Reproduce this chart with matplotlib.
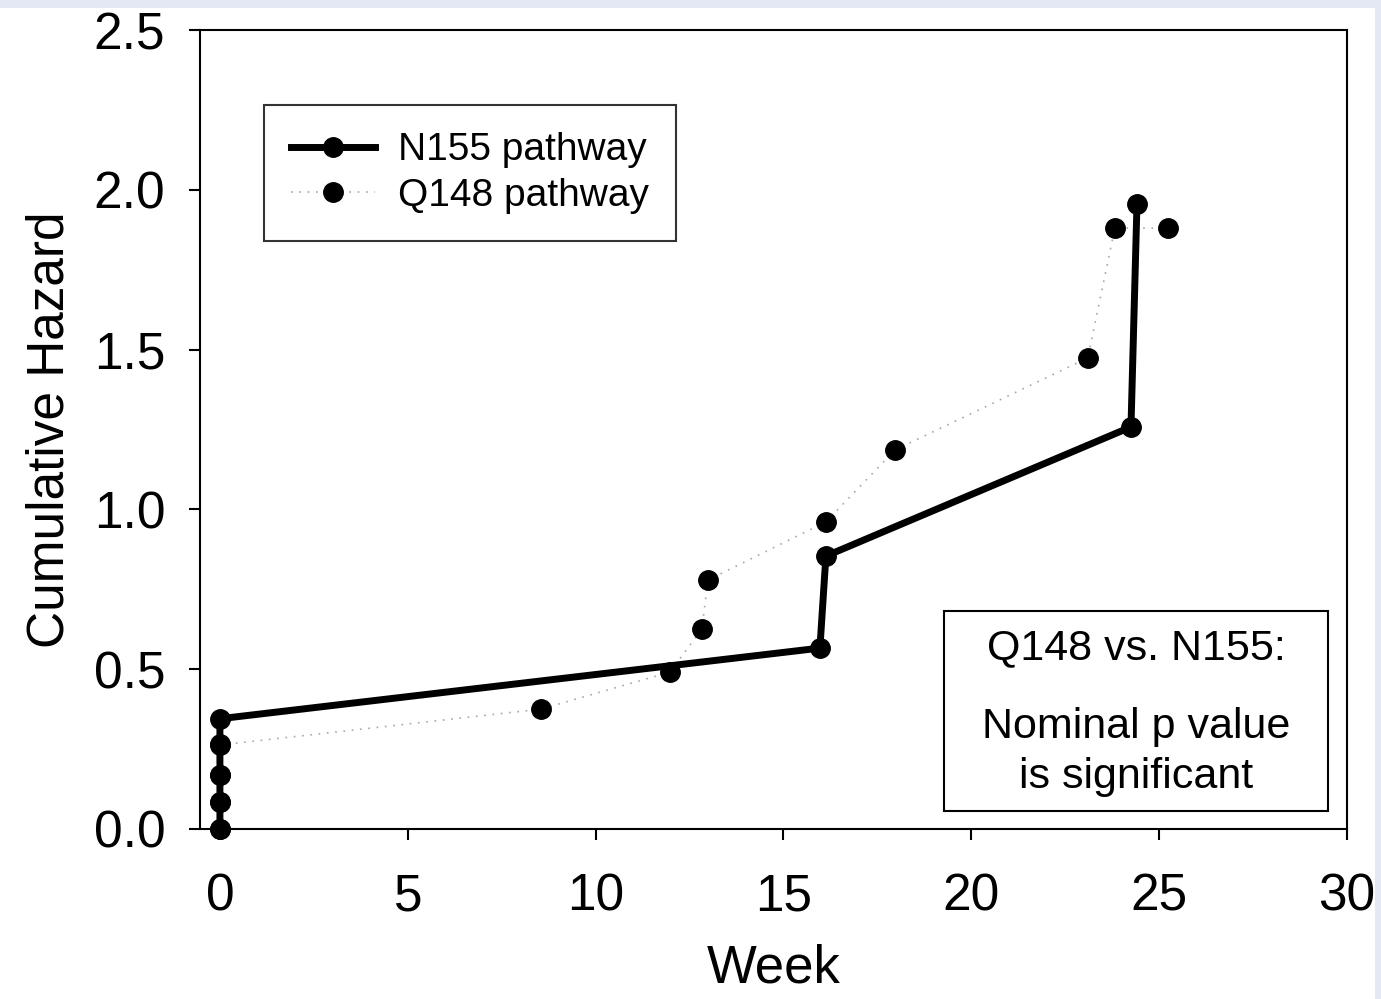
import matplotlib
matplotlib.use("Agg")
import matplotlib.pyplot as plt
from matplotlib.patches import Rectangle

plt.rcParams['font.family'] = ['Liberation Sans', 'DejaVu Sans']

# N155 pathway (solid line)
n155_week = [0, 0, 0, 0, 0, 15.97, 16.13, 24.25, 24.41]
n155_hazard = [0.0, 0.085, 0.17, 0.265, 0.345, 0.566, 0.854, 1.258, 1.956]

# Q148 pathway (dotted line)
q148_week = [0, 0, 0, 0, 8.54, 11.98, 12.83, 12.99, 16.13, 17.97, 23.1, 23.82, 25.23]
q148_hazard = [0.0, 0.085, 0.17, 0.263, 0.375, 0.491, 0.626, 0.779, 0.961, 1.186, 1.474, 1.88, 1.88]

xticks = [0, 5, 10, 15, 20, 25, 30]
yticks = [0.0, 0.5, 1.0, 1.5, 2.0, 2.5]

fig = plt.figure(figsize=(13.81, 9.99), dpi=100)
fig.patch.set_facecolor('white')
# light blue border strips from the original slide
fig.patches.append(Rectangle((0, 1 - 8 / 999), 1, 8 / 999, transform=fig.transFigure,
                             facecolor='#e3e8f4', edgecolor='none', zorder=0))
fig.patches.append(Rectangle((1 - 6 / 1381, 0), 6 / 1381, 1, transform=fig.transFigure,
                             facecolor='#e3e8f4', edgecolor='none', zorder=0))

ax = fig.add_axes([200 / 1381, 170 / 999, 1147 / 1381, 799 / 999])

ax.plot(q148_week, q148_hazard, color='#a8a8a8', linewidth=1.2, linestyle=(0, (1, 4)),
        marker='o', markersize=14, markerfacecolor='black', markeredgecolor='black',
        label='Q148 pathway', zorder=2, clip_on=False)
ax.plot(n155_week, n155_hazard, color='black', linewidth=5,
        marker='o', markersize=14, markerfacecolor='black', markeredgecolor='black',
        label='N155 pathway', zorder=3, clip_on=False)

ax.set_xlim(-0.53, 30)
ax.set_ylim(0, 2.5)
ax.set_xticks(xticks)
ax.set_yticks(yticks)
ax.set_xticklabels([str(t) for t in xticks])
ax.set_yticklabels(['%.1f' % t for t in yticks])
ax.tick_params(axis='both', direction='out', length=8, width=1.5, labelsize=37)
ax.tick_params(axis='x', pad=23)
ax.tick_params(axis='y', pad=17)
for s in ax.spines.values():
    s.set_linewidth(1.5)

ax.set_xlabel('Week', fontsize=38, labelpad=16)
ax.set_ylabel('Cumulative Hazard', fontsize=37, labelpad=14)

handles, labels = ax.get_legend_handles_labels()
leg = ax.legend(handles[::-1], labels[::-1], loc='upper left', bbox_to_anchor=(0.0558, 0.906),
                borderaxespad=0, fontsize=28, frameon=True, fancybox=False,
                handlelength=2.15, handletextpad=0.6, borderpad=0.7, labelspacing=0.25)
leg.get_frame().set_edgecolor('black')
leg.get_frame().set_linewidth(1.5)

ax.add_patch(Rectangle((0.6487, 0.0225), 0.3347, 0.2503, transform=ax.transAxes,
                       facecolor='white', edgecolor='black', linewidth=1.5, zorder=4))
ax.text(0.816, 0.2265, 'Q148 vs. N155:', transform=ax.transAxes, ha='center', va='center',
        fontsize=31, zorder=5)
ax.text(0.816, 0.128, 'Nominal p value', transform=ax.transAxes, ha='center', va='center',
        fontsize=31, zorder=5)
ax.text(0.816, 0.065, 'is significant', transform=ax.transAxes, ha='center', va='center',
        fontsize=31, zorder=5)

fig.savefig('out.png', dpi=100)
